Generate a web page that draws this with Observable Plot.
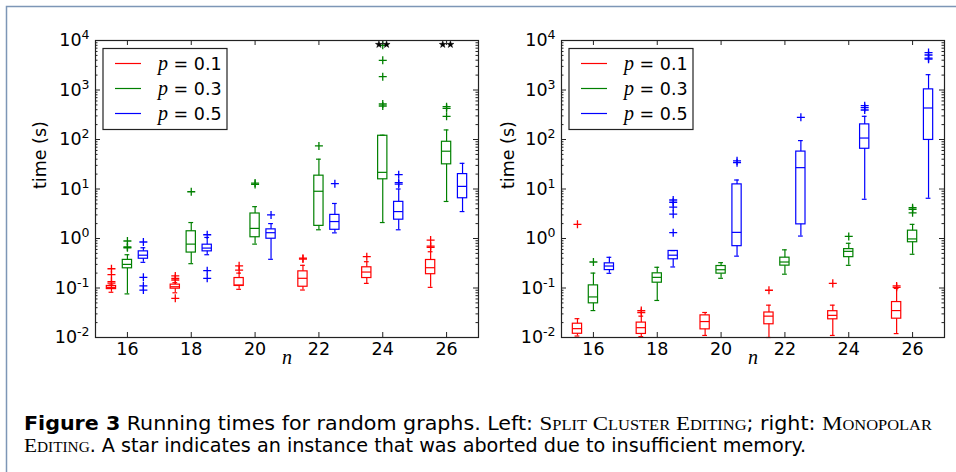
<!DOCTYPE html>
<html><head><meta charset="utf-8">
<script src="https://cdn.jsdelivr.net/npm/d3@7"></script>
<script src="https://cdn.jsdelivr.net/npm/@observablehq/plot@0.6"></script>
<style>
body{margin:0;background:#fff;}
#fig{position:relative;width:956px;height:472px;overflow:hidden;background:#fff;}
#fig > svg{position:absolute;top:0;}
.sc{font-variant:small-caps;font-family:"Liberation Serif","DejaVu Serif",serif;}
</style></head><body><div id="fig"></div>
<script>
// ---------------- data ----------------
const nValues = [16, 18, 20, 22, 24, 26];
const pValues = [0.1, 0.3, 0.5];
const yTickExponents = [-2, -1, 0, 1, 2, 3, 4];

// Left: Split Cluster Editing, [low whisker, q1, median, q3, high whisker] per n
const splitP01 = [[0.082,0.095,0.103,0.110,0.115],[0.080,0.097,0.106,0.117,0.128],[0.094,0.110,0.115,0.159,0.200],[0.091,0.106,0.157,0.217,0.287],[0.124,0.159,0.210,0.262,0.340],[0.103,0.190,0.257,0.368,0.540]];
const splitP03 = [[0.076,0.25,0.30,0.37,0.47],[0.31,0.52,0.77,1.40,2.1],[0.77,1.06,1.6,3.2,4.4],[1.5,1.8,9.0,18.6,40],[2.1,15.7,21.7,119,122],[5.6,31.5,58,90,156]];
const splitP05 = [[0.33,0.39,0.46,0.55,0.65],[0.47,0.55,0.64,0.75,1.05],[0.38,0.99,1.31,1.53,2.0],[1.3,1.5,2.2,3.0,5.1],[1.5,2.4,3.5,5.5,10],[3.5,6.5,11.3,20,33]];
const splitP01Out = [[0.125,0.135,0.186,0.245],[0.062,0.145,0.156,0.175],[0.23,0.28],[0.385,0.40],[0.43],[0.66,0.70,0.93]];
const splitP03Out = [[0.65,0.68,0.89],[8.8],[12.4,13.2],[74],[475,521,1860,3980,8000],[294,426,461]];
const splitP05Out = [[0.091,0.11,0.164,0.85],[0.157,0.224,1.19],[3.0],[12.8],[12.6,13.4,19.5],[]];
const splitAborted = [0, 0, 0, 0, 2, 2];   // aborted instances (p = 0.3) per n
const abortedMarkerTime = 8300;

// Right: Monopolar Editing
const monoP01 = [[0.0107,0.0119,0.0151,0.019,0.024],[0.0104,0.0118,0.0158,0.020,0.027],[0.011,0.0146,0.021,0.028,0.032],[0.010,0.0185,0.027,0.032,0.045],[0.011,0.0233,0.028,0.034,0.045],[0.012,0.024,0.035,0.052,0.098]];
const monoP03 = [[0.035,0.049,0.066,0.113,0.20],[0.056,0.128,0.164,0.198,0.262],[0.157,0.195,0.234,0.278,0.325],[0.19,0.283,0.335,0.41,0.59],[0.287,0.42,0.55,0.61,0.80],[0.48,0.84,0.98,1.44,1.93]];
const monoP05 = [[0.198,0.23,0.278,0.315,0.417],[0.266,0.38,0.46,0.56,0.57],[0.44,0.70,1.33,12.4,15.2],[1.12,1.93,27,57,95],[6.2,65,107,202,294],[6.5,98,433,1030,2040]];
const monoP01Out = [[1.93],[0.032,0.035],[],[0.09],[0.124],[0.103,0.11]];
const monoP03Out = [[0.335],[],[],[],[1.1],[3.3,3.9,4.2]];
const monoP05Out = [[],[1.31,3.1,4.3,5.4,6.0],[34,37],[280],[394,440,483],[4200,4400,5100,5700]];
const monoAborted = [0, 0, 0, 0, 0, 0];

// ---------------- style ----------------
const COLORS = ["#ff0000", "#008000", "#0000ff"];
const BOX_HALF = 0.145, CAP_HALF = 0.075, STAR_OFF = 0.12;
const H = 372, MT = 40, MB = 35;
const FRAME_H = H - MT - MB;
const AXIS_FONT = "'DejaVu Sans', sans-serif";

function buildRows(stats) {
  const rows = [];
  stats.forEach((s, pi) => s.forEach((b, ni) => rows.push({n: nValues[ni], pi, low: b[0], q1: b[1], med: b[2], q3: b[3], high: b[4]})));
  return rows;
}
function buildOut(outs) {
  const rows = [];
  outs.forEach((o, pi) => o.forEach((vals, ni) => vals.forEach(v => rows.push({n: nValues[ni], pi, v}))));
  return rows;
}
function buildStars(counts) {
  const rows = [];
  counts.forEach((c, ni) => { for (let k = 0; k < c; k++) rows.push({n: nValues[ni], k, c}); });
  return rows;
}
const xpos = d => d.n + (d.pi - 1) * 0.5;
const yMajor = yTickExponents.map(e => 10 ** e);
const yMinor = [];
for (let e = -2; e < 4; e++) for (let k = 2; k <= 9; k++) yMinor.push(k * 10 ** e);

function panel({left, width, ml, mr, stats, outs, aborted, ylabelDx}) {
  const FW = width - ml - mr;
  const rows = buildRows(stats), outRows = buildOut(outs), stars = buildStars(aborted);
  const lw = 1.2;
  const svg = Plot.plot({
    width, height: H, marginLeft: ml, marginRight: mr, marginTop: MT, marginBottom: MB,
    x: {domain: [15, 27], label: null},
    y: {type: "log", domain: [1e-2, 1e4], label: null},
    color: {type: "identity"},
    style: {fontFamily: AXIS_FONT, fontSize: "17.5px", background: "transparent", overflow: "visible", color: "#000"},
    marks: [
      // whiskers
      Plot.ruleX(rows, {x: xpos, y1: "low", y2: "q1", stroke: d => COLORS[d.pi], strokeWidth: lw}),
      Plot.ruleX(rows, {x: xpos, y1: "q3", y2: "high", stroke: d => COLORS[d.pi], strokeWidth: lw}),
      Plot.ruleY(rows, {y: "low", x1: d => xpos(d) - CAP_HALF, x2: d => xpos(d) + CAP_HALF, stroke: d => COLORS[d.pi], strokeWidth: lw}),
      Plot.ruleY(rows, {y: "high", x1: d => xpos(d) - CAP_HALF, x2: d => xpos(d) + CAP_HALF, stroke: d => COLORS[d.pi], strokeWidth: lw}),
      // boxes
      Plot.rect(rows, {x1: d => xpos(d) - BOX_HALF, x2: d => xpos(d) + BOX_HALF, y1: "q1", y2: "q3", fill: "none", stroke: d => COLORS[d.pi], strokeWidth: lw}),
      Plot.ruleY(rows, {y: "med", x1: d => xpos(d) - BOX_HALF, x2: d => xpos(d) + BOX_HALF, stroke: d => COLORS[d.pi], strokeWidth: lw}),
      // outliers
      Plot.dot(outRows, {x: xpos, y: "v", symbol: "plus", r: 2.7, stroke: d => COLORS[d.pi], strokeWidth: 1.3}),
      // aborted instances
      Plot.dot(stars, {x: d => d.n + (d.k - (d.c - 1) / 2) * 2 * STAR_OFF, y: () => abortedMarkerTime, symbol: "star", r: 2.2, fill: "#000", stroke: "#000", strokeWidth: 0.5}),
      // inward ticks
      Plot.tickY(yMajor, {y: d => d, insetRight: FW - 5, stroke: "#222"}),
      Plot.tickY(yMajor, {y: d => d, insetLeft: FW - 5, stroke: "#222"}),
      Plot.tickY(yMinor, {y: d => d, insetRight: FW - 2.5, stroke: "#222"}),
      Plot.tickY(yMinor, {y: d => d, insetLeft: FW - 2.5, stroke: "#222"}),
      Plot.tickX(nValues, {x: d => d, insetBottom: FRAME_H - 5, stroke: "#222"}),
      Plot.tickX(nValues, {x: d => d, insetTop: FRAME_H - 5, stroke: "#222"}),
      Plot.frame({stroke: "#222", strokeWidth: 1.2}),
      Plot.axisX(nValues, {tickSize: 0, tickPadding: 5, fontSize: 17.5, label: null}),
      Plot.axisY(yMajor, {tickSize: 0, tickPadding: 6, fontSize: 17.5, label: null, tickFormat: d => "10^" + Math.round(Math.log10(d))}),
      Plot.text(["time (s)"], {frameAnchor: "left", dx: ylabelDx, rotate: -90, fontSize: 17.5}),
      Plot.text(["n"], {frameAnchor: "bottom", dy: 26, fontSize: 20, fontStyle: "italic", fontFamily: "'Liberation Serif', serif"})
    ]
  });
  svg.style.left = left + "px";
  // superscript exponents on y tick labels
  svg.querySelectorAll('g[aria-label="y-axis tick label"] text').forEach(t => {
    const parts = t.textContent.split("^");
    t.textContent = parts[0];
    const ts = document.createElementNS("http://www.w3.org/2000/svg", "tspan");
    ts.setAttribute("dy", "-7");
    ts.setAttribute("font-size", "12.5");
    ts.textContent = parts[1];
    t.appendChild(ts);
  });
  // legend (upper left, inside frame)
  const g = d3.select(svg).append("g").attr("transform", `translate(${ml},0)`);
  g.append("rect").attr("x", 8).attr("y", 48.5).attr("width", 124).attr("height", 81)
    .attr("fill", "#fff").attr("stroke", "#222").attr("stroke-width", 1.2);
  pValues.forEach((p, i) => {
    const y = 63.5 + i * 25;
    g.append("line").attr("x1", 20).attr("x2", 46).attr("y1", y).attr("y2", y).attr("stroke", COLORS[i]).attr("stroke-width", 1.2);
    const t = g.append("text").attr("x", 63).attr("y", y).attr("dy", "0.35em").attr("text-anchor", "start")
      .attr("font-family", AXIS_FONT).attr("font-size", 17.5);
    t.append("tspan").attr("font-family", "'Liberation Serif', serif").attr("font-style", "italic").attr("font-size", 20).text("p");
    t.append("tspan").text(" = " + p);
  });
  return svg;
}

const fig = document.getElementById("fig");

// figure frame + caption
const cap = d3.select(fig).append("svg").attr("width", 956).attr("height", 472).style("left", "0px");
cap.append("path").attr("d", "M6.5,472 V6.5 H956").attr("fill", "none").attr("stroke", "#7d96b6").attr("stroke-width", 1.5);
const capFont = "'Liberation Sans Narrow','DejaVu Sans Condensed','Liberation Sans',sans-serif";
const l1 = cap.append("text").attr("x", 24).attr("y", 430).attr("font-family", capFont).attr("font-size", 19.5)
  .attr("textLength", 908).attr("lengthAdjust", "spacingAndGlyphs");
l1.append("tspan").attr("font-weight", "bold").text("Figure 3");
l1.append("tspan").text(" Running times for random graphs. Left: ");
l1.append("tspan").attr("class", "sc").text("Split Cluster Editing");
l1.append("tspan").text("; right: ");
l1.append("tspan").attr("class", "sc").text("Monopolar");
const l2 = cap.append("text").attr("x", 24).attr("y", 452).attr("font-family", capFont).attr("font-size", 19.5)
  .attr("textLength", 782).attr("lengthAdjust", "spacingAndGlyphs");
l2.append("tspan").attr("class", "sc").text("Editing");
l2.append("tspan").text(". A star indicates an instance that was aborted due to insufficient memory.");

fig.appendChild(panel({left: 0, width: 480, ml: 95, mr: 2, stats: [splitP01, splitP03, splitP05], outs: [splitP01Out, splitP03Out, splitP05Out], aborted: splitAborted, ylabelDx: -55}));
fig.appendChild(panel({left: 480, width: 476, ml: 81, mr: 12, stats: [monoP01, monoP03, monoP05], outs: [monoP01Out, monoP03Out, monoP05Out], aborted: monoAborted, ylabelDx: -53}));
</script></body></html>
